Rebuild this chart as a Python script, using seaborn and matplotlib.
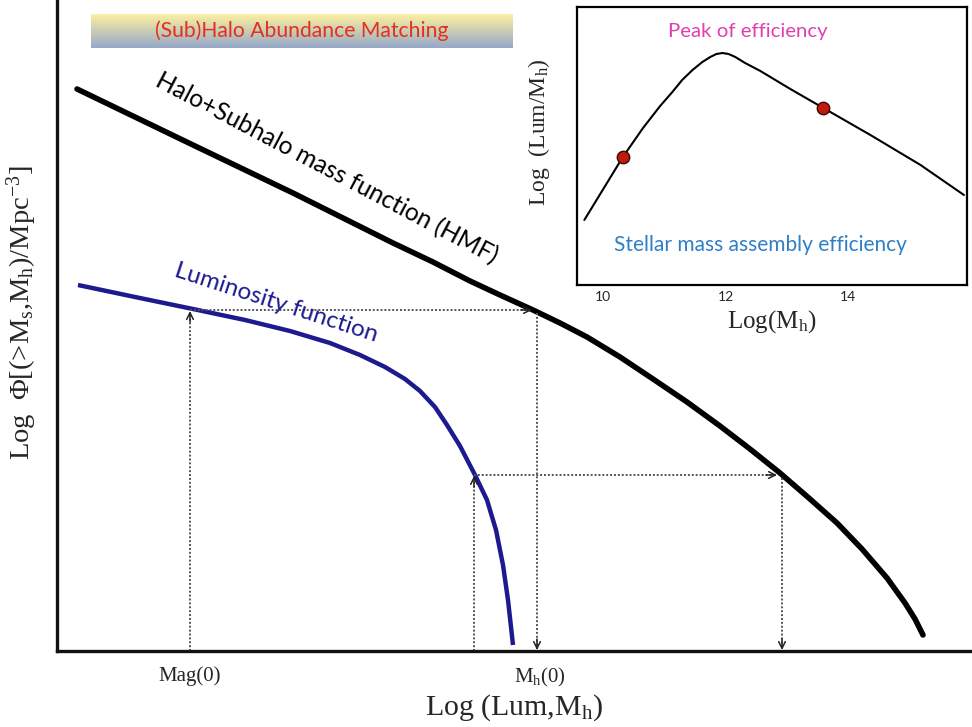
import numpy as np
import pandas as pd
import matplotlib
matplotlib.use("Agg")
import matplotlib.pyplot as plt
import seaborn as sns

# ---------------- data ----------------
hmf_lum = [20, 78, 136, 186, 236, 286, 336, 376, 413, 443, 476, 503, 530,
           563, 596, 630, 663, 693, 723, 753, 780, 805, 830, 848, 858, 866]
hmf_phi = [562, 534, 506, 482, 458, 433, 408, 389, 370, 356, 341, 328, 314,
           294, 272, 249, 225, 202, 178, 152, 128, 102, 73, 48, 32, 16]

lf_lum = [21, 78, 136, 188, 233, 273, 303, 328, 348, 363, 378, 390, 403,
          418, 430, 439, 446, 451, 456]
lf_phi = [366, 354, 342, 331, 320, 308, 296, 284, 272, 260, 244, 226, 205,
          176, 151, 121, 86, 51, 6]

match_lum = [133, 417]      # Mag(0) and a fainter luminosity
match_mh = [480, 725]       # matching halo masses
match_phi = [341, 176]      # matching abundances

tick_pos = [133, 483]
tick_labels = ["Mag(0)", r"M$_\mathrm{h}$(0)"]

eff_logmh = [9.69, 10.00, 10.32, 10.65, 10.93, 11.13, 11.29, 11.46, 11.62,
             11.75, 11.85, 11.95, 12.05, 12.16, 12.32, 12.57, 13.06, 13.60,
             14.37, 15.19, 15.90]
eff_val = [65, 96, 128, 157, 179, 193, 205, 215, 223, 228, 231, 232, 231,
           228, 222, 214, 196, 177, 150, 120, 90]
dot_logmh = [10.32, 13.60]
dot_val = [128, 177]
inset_ticks = [10, 12, 14]

# ---------------- style ----------------
sns.set_theme(style="white")
plt.rcParams["font.family"] = ["Lato", "DejaVu Sans"]
plt.rcParams["mathtext.fontset"] = "custom"
plt.rcParams["mathtext.rm"] = "Liberation Serif"
plt.rcParams["mathtext.it"] = "Liberation Serif:italic"
SERIF = ["Liberation Serif", "DejaVu Serif"]

W, H = 972, 727
fig = plt.figure(figsize=(W / 100, H / 100), dpi=100)
fig.patch.set_facecolor("white")

ax = fig.add_axes([57 / W, 76 / H, 915 / W, 651 / H])
ax.set_xlim(0, 915)
ax.set_ylim(0, 651)
ax.set_facecolor("white")
for s in ["top", "right"]:
    ax.spines[s].set_visible(False)
for s in ["left", "bottom"]:
    ax.spines[s].set_color("#111111")
    ax.spines[s].set_linewidth(2.4)

hmf_df = pd.DataFrame({"lum": hmf_lum, "phi": hmf_phi})
lf_df = pd.DataFrame({"lum": lf_lum, "phi": lf_phi})
sns.lineplot(data=hmf_df, x="lum", y="phi", sort=False, color="black",
             lw=4.0, ax=ax, solid_capstyle="round", solid_joinstyle="round")
sns.lineplot(data=lf_df, x="lum", y="phi", sort=False, color="#1c1a8e",
             lw=3.2, ax=ax, solid_capstyle="butt", solid_joinstyle="round")

dcol = "#555555"
for lx, mx, py in zip(match_lum, match_mh, match_phi):
    ax.plot([lx, lx], [0, py - 3], ls=(0, (1, 1)), color=dcol, lw=1.4)
    ax.plot([lx, mx - 6], [py, py], ls=(0, (1, 1)), color=dcol, lw=1.4)
    ax.plot([mx, mx], [py - 3, 2], ls=(0, (1, 1)), color=dcol, lw=1.4)
    ap = dict(arrowstyle="->", lw=1.1, color="#222222", shrinkA=0, shrinkB=0,
              mutation_scale=12)
    ax.annotate("", xy=(lx, py - 1), xytext=(lx, py - 12), arrowprops=ap)
    ax.annotate("", xy=(mx - 5, py), xytext=(mx - 16, py), arrowprops=ap)
    ax.annotate("", xy=(mx, 1), xytext=(mx, 12), arrowprops=ap)

ax.set_xticks(tick_pos)
ax.set_xticklabels(tick_labels, fontfamily=SERIF, fontsize=15)
ax.set_yticks([])
ax.tick_params(axis="x", length=0, pad=11)
ax.set_xlabel(r"Log (Lum,M$_\mathrm{h}$)", fontfamily=SERIF, fontsize=21.5,
              labelpad=2)
ax.set_ylabel(r"Log  Φ[(>M$_\mathrm{s}$,M$_\mathrm{h}$)/Mpc$^{-3}$]",
              fontfamily=SERIF, fontsize=20.5)
ax.yaxis.set_label_coords(-0.02, 0.52)

ax.text(270, 483, "Halo+Subhalo mass function (HMF)", rotation=-27.8,
        rotation_mode="anchor", ha="center", va="center", fontsize=17.7,
        color="black")
ax.text(219, 348, "Luminosity function", rotation=-18, rotation_mode="anchor",
        ha="center", va="center", fontsize=17.5, color="#1c1a8e")

# ---------------- title box with gradient ----------------
tax = fig.add_axes([91 / W, 1 - 48 / H, (512 - 91) / W, 34 / H])
grad = np.linspace(0, 1, 64).reshape(-1, 1)
top = np.array([0.99, 0.94, 0.63])
bot = np.array([0.59, 0.66, 0.79])
img = top[None, None, :] * (1 - grad[:, :, None]) + bot[None, None, :] * grad[:, :, None]
tax.imshow(img, aspect="auto", extent=[0, 1, 0, 1], origin="upper")
tax.set_xlim(0, 1)
tax.set_ylim(0, 1)
tax.axis("off")
tax.text(0.5, 0.5, "(Sub)Halo Abundance Matching", ha="center", va="center",
         fontsize=15.2, color="#e4301c")

# ---------------- inset ----------------
iax = fig.add_axes([577 / W, 1 - 285 / H, (967 - 577) / W, (285 - 7) / H])
iax.set_facecolor("white")
iax.set_xlim(9.57, 15.95)
iax.set_ylim(0, 278)
for s in iax.spines.values():
    s.set_visible(True)
    s.set_color("black")
    s.set_linewidth(1.6)
eff_df = pd.DataFrame({"logmh": eff_logmh, "val": eff_val})
sns.lineplot(data=eff_df, x="logmh", y="val", sort=False, color="black",
             lw=1.5, ax=iax, solid_joinstyle="round")
dot_df = pd.DataFrame({"logmh": dot_logmh, "val": dot_val})
sns.scatterplot(data=dot_df, x="logmh", y="val", color="#c01a0a", s=80,
                edgecolor="#3a0a05", linewidth=1.0, ax=iax, zorder=5)
iax.set_xticks(inset_ticks)
iax.set_xticklabels([str(t) for t in inset_ticks], fontsize=10)
iax.set_yticks([])
iax.tick_params(axis="x", length=0, pad=4)
iax.set_xlabel(r"Log(M$_\mathrm{h}$)", fontfamily=SERIF, fontsize=18,
               labelpad=4)
iax.set_ylabel(r"Log  (Lum/M$_\mathrm{h}$)", fontfamily=SERIF, fontsize=17)
iax.yaxis.set_label_coords(-0.065, 0.55)
iax.text(12.36, 253, "Peak of efficiency", ha="center", va="center",
         fontsize=14.7, color="#e03fb0")
iax.text(12.57, 40, "Stellar mass assembly efficiency", ha="center",
         va="center", fontsize=15, color="#2e7fc6")

fig.savefig("out.png", dpi=100, facecolor="white")
